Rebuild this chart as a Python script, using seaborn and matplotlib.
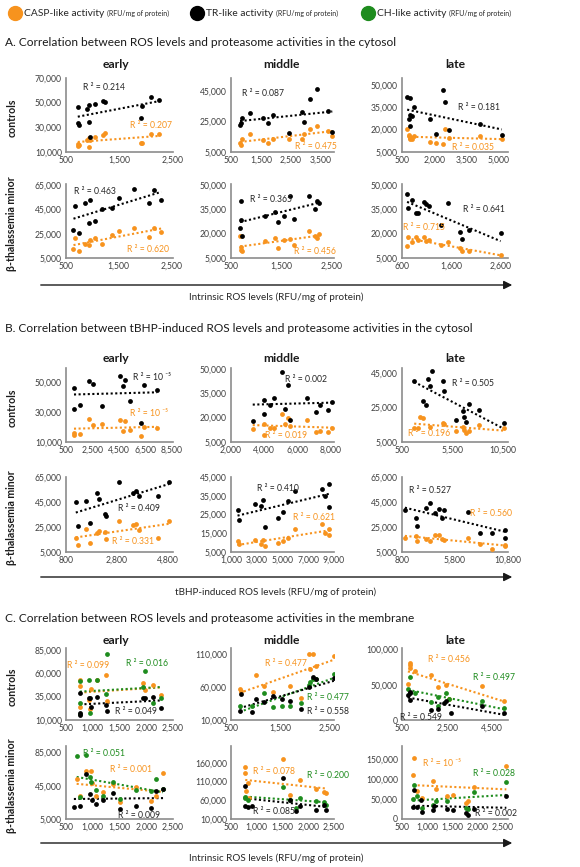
import numpy as np
import pandas as pd
import matplotlib
matplotlib.use("Agg")
import matplotlib.pyplot as plt
import seaborn as sns

nan = np.nan

# ---------------- A. intrinsic ROS vs cytosolic activities ----------------
A_ctrl_early_ros = [720, 731, 735, 888, 925, 935, 950, 1044, 1200, 1237, 1906, 1925, 2094, 2238]
A_ctrl_early_tr = [33200, 46300, 31800, 44600, 48200, 34500, 22300, 48700, 51400, 50400, 37300, 47400, 54200, 52300]
A_ctrl_early_casp = [16300, 14900, 15500, 20100, 21500, 14100, 20000, 22300, 23600, 25500, 17400, 17400, 25000, 24200]

A_ctrl_middle_ros = [802, 836, 858, 1150, 1565, 1754, 1910, 2426, 2874, 2941, 3132, 3390, 3747, 3893]
A_ctrl_middle_tr = [22500, 23800, 27500, 30400, 27500, 24200, 29000, 17700, 31400, 24700, 39500, 46500, 31700, 18100]
A_ctrl_middle_casp = [10700, 9600, 13700, 16600, 12600, 11100, 13700, 13300, 13700, 16600, 20300, 22000, 18800, 15500]

A_ctrl_late_ros = [741, 822, 854, 870, 885, 982, 1063, 1818, 2107, 2397, 2510, 2703, 4150, 5162]
A_ctrl_late_tr = [42200, 27200, 22700, 41500, 30000, 28900, 35100, 27200, 17400, 46700, 38200, 19600, 24000, 16700]
A_ctrl_late_casp = [20700, 16700, 15200, 13900, 14500, 13900, 15600, 11600, 11200, 10500, 20100, 14100, 15600, 13900]

A_thal_early_ros = [642, 680, 745, 855, 939, 952, 1048, 1177, 1371, 1500, 1790, 2080, 2164, 2306]
A_thal_early_tr = [28200, 47800, 26000, 50000, 34200, 52700, 35600, 45100, 46500, 54700, 61500, 50600, 60900, 52700]
A_thal_early_casp = [12400, 21400, 11000, 16700, 15900, 19500, 21400, 16700, 24100, 27600, 30100, 22200, 29600, 26300]

A_thal_middle_ros = [681, 694, 700, 726, 1177, 1371, 1435, 1545, 1674, 1745, 2061, 2177, 2210, 2255]
A_thal_middle_tr = [23400, 40200, 28500, 18700, 30600, 33000, 27100, 31000, 43300, 29100, 43300, 35100, 39800, 38700]
A_thal_middle_casp = [18300, 11500, 10100, 9100, 15200, 17300, 11100, 15800, 16700, 13200, 21800, 18300, 17300, 19700]

A_thal_late_ros = [703, 724, 793, 876, 931, 1048, 1083, 1152, 1393, 1531, 1772, 1807, 1966, 2600]
A_thal_late_tr = [44300, 35700, 40400, 32600, 32600, 39200, 38200, 37100, 25500, 38700, 20800, 16700, 22400, 20300]
A_thal_late_casp = [12600, 17900, 14800, 17900, 15800, 17900, 15600, 16300, 13200, 14600, 11100, 9100, 9100, 6600]

# ---------------- B. tBHP-induced ROS vs cytosolic activities ----------------
B_ctrl_early_ros = [1105, 1110, 1550, 2263, 2553, 3210, 4580, 4790, 4974, 5316, 6158, 6421, 7395]
B_ctrl_early_tr = [46000, 32200, 34400, 50400, 48400, 34000, 53800, 47300, 51600, 37100, 22700, 47800, 44400]
B_ctrl_early_casp = [16000, 14900, 15100, 25600, 21600, 22200, 24900, 17300, 24000, 17800, 14000, 20000, 19300]

B_ctrl_middle_ros = [3308, 3972, 4012, 4354, 4616, 5078, 5260, 5461, 5561, 6567, 7130, 7332, 7835, 8097]
B_ctrl_middle_tr = [17700, 22500, 30600, 27800, 32000, 47900, 25300, 40100, 18300, 32000, 23600, 27800, 24600, 29900]
B_ctrl_middle_casp = [13000, 16200, 9200, 13500, 13500, 22100, 16200, 20000, 15100, 18700, 10900, 12000, 10900, 13500]

B_ctrl_late_ros = [1707, 2052, 2328, 2569, 2914, 3086, 3259, 3431, 4534, 4707, 5845, 6534, 6603, 6879, 7121, 8086, 10569]
B_ctrl_late_tr = [40600, nan, nan, 28800, 26400, 41600, 37700, 46000, 40200, 34700, 17500, 22800, 19300, 16900, 26800, 23400, 15900]
B_ctrl_late_casp = [12900, 12900, 19500, 19000, nan, nan, 13900, nan, 16300, 15500, 11300, 13900, 11900, 10300, 11300, 14900, 13300]

B_thal_early_ros = [1184, 1264, 1582, 1755, 2020, 2086, 2325, 2378, 2881, 3437, 3543, 3649, 4404, 4841]
B_thal_early_tr = [44800, 25700, 46200, 27900, 52100, 47500, 35100, 33800, 60700, 52600, 54000, 50000, 50000, 61000]
B_thal_early_casp = [16600, 10900, 23800, 12500, 20300, 21700, 21100, 15800, 29800, 26500, 27100, 22500, 16600, 29800]

B_thal_middle_ros = [1508, 1635, 2853, 3335, 3462, 3614, 4629, 5061, 5391, 6000, 8056, 8284, 8614, 8650]
B_thal_middle_tr = [27600, 21900, 30800, 29300, 32900, 18300, 23300, 26300, 32000, 37300, 38700, 34800, 41100, 29000]
B_thal_middle_casp = [10700, 9400, 11200, 9400, 11600, 8000, 9800, 10900, 12600, 17400, 19700, 15100, 17400, 13900]

B_thal_late_ros = [1070, 2084, 2253, 3098, 3436, 3943, 4280, 4618, 4753, 7050, 8131, 9246, 10496, 10550]
B_thal_late_tr = [38600, 32500, 25700, 40000, 44000, 36000, 39200, 32500, 38600, 37300, 20600, 20300, 22500, 16600]
B_thal_late_casp = [16600, 17600, 13900, 15800, 13900, 18500, 18500, 15800, 15000, 16300, 11700, 7700, 10400, 9800]

# ---------------- C. intrinsic ROS vs membrane activities ----------------
C_ctrl_early_ros = [759, 762, 771, 929, 948, 973, 1086, 1244, 1263, 1938, 1969, 2127, 2285]
C_ctrl_early_casp = [53100, 46100, 24100, 31200, 21300, 43600, 53100, 57700, 30500, 49600, 42500, 47800, 36500]
C_ctrl_early_ch = [51700, 28400, 16000, 53100, 17100, nan, 53100, 38300, 80700, 45400, 62300, 27700, 33000]
C_ctrl_early_tr = [15300, 17100, 39000, 33000, 34000, 23400, 34800, 25900, 19900, 34000, 33000, 34800, 22400]

C_ctrl_middle_ros = [674, 694, 919, 1016, 1177, 1358, 1532, 1694, 1919, 2081, 2113, 2177, 2242, 2597]
C_ctrl_middle_casp = [56900, 54300, nan, 78800, 61000, 51700, nan, 62100, 43900, 110000, 87100, 110000, 92300, 107400]
C_ctrl_middle_ch = [31900, nan, 31900, nan, 50600, 29800, 30800, 31900, 36000, 63100, 67300, 72500, 71500, 80300]
C_ctrl_middle_tr = [23000, 49000, 21500, 42300, 37100, 46500, 41300, 38600, 26700, 59500, nan, 75100, 72500, 73500]

C_ctrl_late_ros = [762, 854, 860, 870, 1069, 1777, 2085, 2100, 2346, 2469, 2577, 2654, 4069, 5038]
C_ctrl_late_casp = [50900, 81100, 77800, 73100, 69800, 63700, 46200, nan, nan, 49500, 29700, nan, 48600, 26900]
C_ctrl_late_ch = [43400, nan, nan, 60400, 37700, 25000, 32100, 19800, nan, 38700, 29200, nan, 26900, 16500]
C_ctrl_late_tr = [35400, 28300, 40100, 37700, nan, 14200, 15100, nan, 23600, 27400, nan, 10400, 19800, 9400]

C_thal_early_ros = [647, 699, 763, 872, 955, 968, 981, 1064, 1192, 1372, 1500, 1801, 2090, 2173, 2314]
C_thal_early_casp = [nan, 53000, 32200, 63000, nan, 63000, 48200, 33000, 37000, 47400, 25000, 43400, 26200, 32200, 60200]
C_thal_early_ch = [nan, 81000, 31400, 82200, 56200, 50200, nan, 39400, 33000, 50200, 29000, 39400, 39000, 53000, 41000]
C_thal_early_tr = [19000, nan, 21000, 59000, 35000, nan, 28200, 23400, 28200, 36200, 17000, 20200, 18200, 38200, 41000]

C_thal_middle_ros = [777, 780, 790, 823, 842, 906, 1513, 1642, 1758, 1842, 2158, 2306, 2339]
C_thal_middle_casp = [147600, 133500, 85800, 107000, 65600, nan, 171400, 74400, nan, 114000, 90300, 81400, 80600]
C_thal_middle_ch = [70000, 65600, nan, 61200, nan, nan, 96400, 61200, 39100, 65600, 58500, 54100, 47900]
C_thal_middle_tr = [98200, 45300, nan, 40900, nan, 45300, 118500, 61200, 30300, 43500, 32900, 47900, 32900]

C_thal_late_ros = [720, 733, 800, 880, 900, 1113, 1133, 1167, 1400, 1513, 1767, 1800, 1933, 2567]
C_thal_late_casp = [110800, 152500, 69200, nan, 52500, 94200, nan, 75000, 56700, 60800, 40000, 44200, 80000, 133300]
C_thal_late_ch = [50000, 85800, 58300, nan, 27500, 35800, nan, 45800, 44200, nan, 27500, 25000, 66700, 91700]
C_thal_late_tr = [29200, 71700, 30000, 48300, 16700, 23300, 31700, nan, 25800, 23300, 15000, 10800, 25000, 58300]

# R² labels shown on the chart
A_r2 = [["0.214", "0.207"], ["0.087", "0.475"], ["0.181", "0.035"],
        ["0.463", "0.620"], ["0.365", "0.456"], ["0.641", "0.715"]]
B_r2 = [["10 ⁻⁵", "10 ⁻⁵"], ["0.002", "0.019"], ["0.505", "0.196"],
        ["0.409", "0.331"], ["0.410", "0.621"], ["0.527", "0.560"]]
C_r2 = [["0.049", "0.099", "0.016"], ["0.558", "0.477", "0.477"], ["0.549", "0.456", "0.497"],
        ["0.009", "0.001", "0.051"], ["0.085", "0.078", "0.200"], ["0.002", "10 ⁻⁵", "0.028"]]

legend_names = ["CASP-like activity", "TR-like activity", "CH-like activity"]
legend_unit = "(RFU/mg of protein)"
col_titles = ["early", "middle", "late"]
row_titles = ["controls", "β-thalassemia minor"]
section_titles = ["A. Correlation between ROS levels and proteasome activities in the cytosol",
                  "B. Correlation between tBHP-induced ROS levels and proteasome activities in the cytosol",
                  "C. Correlation between ROS levels and proteasome activities in the membrane"]
xlabels = ["Intrinsic ROS levels (RFU/mg of protein)",
           "tBHP-induced ROS levels (RFU/mg of protein)",
           "Intrinsic ROS levels (RFU/mg of protein)"]

# ---------------- styling ----------------
sns.set_theme(style="white")
plt.rcParams["font.family"] = ["Lato", "DejaVu Sans"]

COL = {"casp": "#F7931E", "tr": "#000000", "ch": "#1E8C1E"}
TXT = {"casp": "#F7931E", "tr": "#262626", "ch": "#1E8C1E"}

W, H = 580, 867
fig = plt.figure(figsize=(W / 100, H / 100), dpi=100)
fig.patch.set_facecolor("white")

def fx(px):
    return px / W

def fy(py):
    return 1 - py / H

col_left = [66, 231, 402]
col_width = [107, 103, 106]
row_tb = [(78, 152), (184, 258), (368, 442), (477, 552), (648, 720), (746, 819)]

P = []
def add(row, col, ros, series, xlim, xt, ylim, yt, r2, pos):
    P.append(dict(row=row, col=col, ros=ros, series=series, xlim=xlim, xt=xt,
                  ylim=ylim, yt=yt, r2=r2, pos=pos))

add(0, 0, A_ctrl_early_ros, [("casp", A_ctrl_early_casp), ("tr", A_ctrl_early_tr)], (500, 2500), [500, 1500, 2500], (10000, 70000), [10000, 30000, 50000, 70000], dict(tr=A_r2[0][0], casp=A_r2[0][1]), dict(tr=(83, 87), casp=(130, 126)))
add(0, 1, A_ctrl_middle_ros, [("casp", A_ctrl_middle_casp), ("tr", A_ctrl_middle_tr)], (500, 3950), [500, 1500, 2500, 3500], (5000, 53500), [5000, 25000, 45000], dict(tr=A_r2[1][0], casp=A_r2[1][1]), dict(tr=(242, 93), casp=(295, 147)))
add(0, 2, A_ctrl_late_ros, [("casp", A_ctrl_late_casp), ("tr", A_ctrl_late_tr)], (500, 5450), [500, 2000, 3500, 5000], (5000, 54600), [5000, 20000, 35000, 50000], dict(tr=A_r2[2][0], casp=A_r2[2][1]), dict(tr=(458, 107), casp=(452, 148)))
add(1, 0, A_thal_early_ros, [("casp", A_thal_early_casp), ("tr", A_thal_early_tr)], (500, 2530), [500, 1500, 2500], (5000, 66000), [5000, 25000, 45000, 65000], dict(tr=A_r2[3][0], casp=A_r2[3][1]), dict(tr=(74, 191), casp=(127, 249)))
add(1, 1, A_thal_middle_ros, [("casp", A_thal_middle_casp), ("tr", A_thal_middle_tr)], (500, 2550), [500, 1500, 2500], (5000, 50500), [5000, 20000, 35000, 50000], dict(tr=A_r2[4][0], casp=A_r2[4][1]), dict(tr=(250, 200), casp=(294, 252)))
add(1, 2, A_thal_late_ros, [("casp", A_thal_late_casp), ("tr", A_thal_late_tr)], (600, 2750), [600, 1600, 2600], (5000, 50500), [5000, 20000, 35000, 50000], dict(tr=A_r2[5][0], casp=A_r2[5][1]), dict(tr=(463, 209), casp=(403, 228)))

add(2, 0, B_ctrl_early_ros, [("casp", B_ctrl_early_casp), ("tr", B_ctrl_early_tr)], (500, 8600), [500, 2500, 4500, 6500, 8500], (10000, 59300), [10000, 30000, 50000], dict(tr=B_r2[0][0], casp=B_r2[0][1]), dict(tr=(133, 377), casp=(130, 413)))
add(2, 1, B_ctrl_middle_ros, [("casp", B_ctrl_middle_casp), ("tr", B_ctrl_middle_tr)], (2000, 8200), [2000, 4000, 6000, 8000], (5000, 50500), [5000, 20000, 35000, 50000], dict(tr=B_r2[1][0], casp=B_r2[1][1]), dict(tr=(285, 380), casp=(265, 435)))
add(2, 2, B_ctrl_late_ros, [("casp", B_ctrl_late_casp), ("tr", B_ctrl_late_tr)], (500, 11000), [500, 5500, 10500], (5000, 48000), [5000, 25000, 45000], dict(tr=B_r2[2][0], casp=B_r2[2][1]), dict(tr=(452, 384), casp=(408, 434)))
add(3, 0, B_thal_early_ros, [("casp", B_thal_early_casp), ("tr", B_thal_early_tr)], (800, 5000), [800, 2800, 4800], (5000, 65000), [5000, 25000, 45000, 65000], dict(tr=B_r2[3][0], casp=B_r2[3][1]), dict(tr=(118, 509), casp=(112, 541)))
add(3, 1, B_thal_middle_ros, [("casp", B_thal_middle_casp), ("tr", B_thal_middle_tr)], (1000, 9000), [1000, 3000, 5000, 7000, 9000], (5000, 45000), [5000, 15000, 25000, 35000, 45000], dict(tr=B_r2[4][0], casp=B_r2[4][1]), dict(tr=(257, 488), casp=(293, 517)))
add(3, 2, B_thal_late_ros, [("casp", B_thal_late_casp), ("tr", B_thal_late_tr)], (800, 10800), [800, 5800, 10800], (5000, 65000), [5000, 25000, 45000, 65000], dict(tr=B_r2[5][0], casp=B_r2[5][1]), dict(tr=(409, 490), casp=(470, 513)))

add(4, 0, C_ctrl_early_ros, [("casp", C_ctrl_early_casp), ("ch", C_ctrl_early_ch), ("tr", C_ctrl_early_tr)], (500, 2500), [500, 1000, 1500, 2000, 2500], (10000, 87000), [10000, 35000, 60000, 85000], dict(tr=C_r2[0][0], casp=C_r2[0][1], ch=C_r2[0][2]), dict(tr=(115, 711), casp=(67, 666), ch=(126, 663)))
add(4, 1, C_ctrl_middle_ros, [("casp", C_ctrl_middle_casp), ("ch", C_ctrl_middle_ch), ("tr", C_ctrl_middle_tr)], (500, 2600), [500, 1500, 2500], (10000, 119000), [10000, 60000, 110000], dict(tr=C_r2[1][0], casp=C_r2[1][1], ch=C_r2[1][2]), dict(tr=(307, 712), casp=(265, 664), ch=(307, 697)))
add(4, 2, C_ctrl_late_ros, [("casp", C_ctrl_late_casp), ("ch", C_ctrl_late_ch), ("tr", C_ctrl_late_tr)], (500, 5200), [500, 2500, 4500], (0, 102000), [0, 50000, 100000], dict(tr=C_r2[2][0], casp=C_r2[2][1], ch=C_r2[2][2]), dict(tr=(400, 717), casp=(428, 660), ch=(473, 678)))
add(5, 0, C_thal_early_ros, [("casp", C_thal_early_casp), ("ch", C_thal_early_ch), ("tr", C_thal_early_tr)], (500, 2500), [500, 1000, 1500, 2000, 2500], (5000, 93000), [5000, 45000, 85000], dict(tr=C_r2[3][0], casp=C_r2[3][1], ch=C_r2[3][2]), dict(tr=(118, 816), casp=(110, 770), ch=(83, 753)))
add(5, 1, C_thal_middle_ros, [("casp", C_thal_middle_casp), ("ch", C_thal_middle_ch), ("tr", C_thal_middle_tr)], (500, 2500), [500, 1000, 1500, 2000, 2500], (10000, 205000), [10000, 60000, 110000, 160000], dict(tr=C_r2[4][0], casp=C_r2[4][1], ch=C_r2[4][2]), dict(tr=(253, 812), casp=(253, 772), ch=(307, 776)))
add(5, 2, C_thal_late_ros, [("casp", C_thal_late_casp), ("ch", C_thal_late_ch), ("tr", C_thal_late_tr)], (500, 2600), [500, 1000, 1500, 2000, 2500], (0, 182000), [0, 50000, 100000, 150000], dict(tr=C_r2[5][0], casp=C_r2[5][1], ch=C_r2[5][2]), dict(tr=(475, 814), casp=(423, 763), ch=(473, 774)))

for p in P:
    top, bot = row_tb[p["row"]]
    l = col_left[p["col"]]
    w = col_width[p["col"]]
    ax = fig.add_axes([fx(l), fy(bot), w / W, (bot - top) / H])
    df = pd.DataFrame({"ros": p["ros"]})
    for key, vals in p["series"]:
        df[key] = vals
    for key, _ in p["series"]:
        sns.regplot(data=df, x="ros", y=key, ax=ax, ci=None, truncate=True,
                    color=COL[key],
                    scatter_kws=dict(s=12, linewidths=0, alpha=1, zorder=3),
                    line_kws=dict(linestyle=(0, (1, 1.2)), linewidth=1.5, zorder=2))
    ax.set_xlim(*p["xlim"])
    ax.set_ylim(*p["ylim"])
    ax.set_xticks(p["xt"])
    ax.set_yticks(p["yt"])
    ax.set_xticklabels([f"{v:,}" for v in p["xt"]])
    ax.set_yticklabels([f"{v:,}" for v in p["yt"]])
    ax.set_xlabel("")
    ax.set_ylabel("")
    ax.tick_params(length=0, labelsize=6.2, colors="#404040", pad=3)
    for s in ["top", "right"]:
        ax.spines[s].set_visible(False)
    for s in ["left", "bottom"]:
        ax.spines[s].set_color("#8C8C8C")
        ax.spines[s].set_linewidth(1.2)
    ax.set_facecolor("none")
    for key, txt in p["r2"].items():
        x, y = p["pos"][key]
        fig.text(fx(x), fy(y), "R ² = " + txt, fontsize=6.2, color=TXT[key],
                 ha="left", va="center", family=["Lato", "DejaVu Sans"])

# legend at top
leg_keys = ["casp", "tr", "ch"]
leg_dot_x = [15, 197, 368]
for k, name, dx in zip(leg_keys, legend_names, leg_dot_x):
    fig.add_artist(matplotlib.lines.Line2D([fx(dx)], [fy(13)], marker="o", markersize=10,
                                           color=COL[k], linestyle="none",
                                           transform=fig.transFigure))
    t = fig.text(fx(dx + 9), fy(13), name, fontsize=7.4, color="#262626", ha="left", va="center")
    fig.add_artist(matplotlib.text.Annotation(legend_unit, xy=(1, 0.45), xycoords=t,
                                              xytext=(2.2, 0), textcoords="offset points",
                                              fontsize=5, color="#262626",
                                              ha="left", va="center", annotation_clip=False))

# section titles, column titles, row labels, arrows
sec_y = [43, 328, 618]
coltitle_y = [65, 358, 640]
coltitle_x = [116, 282, 455]
arrow_y = [285, 577, 843]
xlabel_y = [297, 592, 858]
for si in range(3):
    fig.text(fx(5), fy(sec_y[si]), section_titles[si], fontsize=8.6, color="#1a1a1a",
             ha="left", va="center")
    for ci in range(3):
        fig.text(fx(coltitle_x[ci]), fy(coltitle_y[si]), col_titles[ci], fontsize=8.7,
                 fontweight="bold", color="#1a1a1a", ha="center", va="center")
    for ri in range(2):
        top, bot = row_tb[si * 2 + ri]
        fig.text(fx(12), fy((top + bot) / 2 + 3), row_titles[ri], fontsize=7.6,
                 fontweight="bold", color="#1a1a1a", rotation=90, ha="center", va="center")
    fig.add_artist(matplotlib.patches.FancyArrowPatch(
        (fx(38), fy(arrow_y[si])), (fx(515), fy(arrow_y[si])),
        transform=fig.transFigure, arrowstyle="-|>,head_length=5,head_width=2.5",
        color="#1a1a1a", linewidth=1.0, mutation_scale=1))
    fig.text(fx(276), fy(xlabel_y[si]), xlabels[si], fontsize=7.1, color="#262626",
             ha="center", va="center")

fig.savefig("out.png", dpi=100, facecolor="white")
